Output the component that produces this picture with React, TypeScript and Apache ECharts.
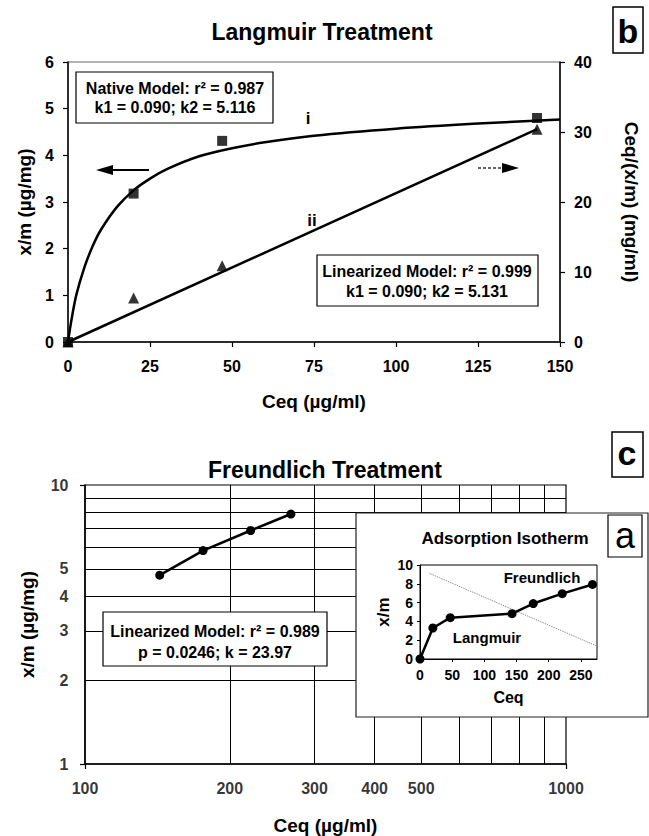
import React, { useEffect, useRef } from "react";
import * as echarts from "echarts";

const FONT = "'Liberation Sans', Arial, Helvetica, sans-serif";

// ---- Panel b: Langmuir treatment ----
const langCeq = [0, 20, 47, 143];
const langXm = [0, 3.18, 4.31, 4.8];
const linCeq = [0, 20, 47, 143];
const linRatio = [0, 6.3, 10.9, 30.4];
const curveCeq = [0, 1, 2.5, 5, 7.5, 10, 15, 20, 25, 30, 40, 50, 60, 75, 100, 125, 150];
const curveXm = [0, 0.45, 1.0, 1.6, 2.05, 2.4, 2.9, 3.25, 3.5, 3.7, 3.98, 4.15, 4.28, 4.42, 4.57, 4.68, 4.77];
const lineIICeq = [0, 143];
const lineIIRatio = [0, 30.4];

// ---- Panel c: Freundlich treatment ----
const freCeq = [143, 176, 221, 268];
const freXm = [4.75, 5.82, 6.87, 7.87];
const logXTicks = [100, 200, 300, 400, 500, 1000];
const logYTicks = [1, 2, 3, 4, 5, 10];
const logXGrid = [200, 300, 400, 500, 600, 700, 800, 900];
const logYGrid = [2, 3, 4, 5, 6, 7, 8, 9];

// ---- Panel a: Adsorption isotherm (inset) ----
const isoCeq = [0, 20, 47, 143, 176, 221, 268];
const isoXm = [0, 3.3, 4.4, 4.82, 5.9, 6.95, 7.93];
const sepCeq = [15, 274];
const sepXm = [9.1, 1.4];

const zip = (a: number[], b: number[]) => a.map((v, i) => [v, b[i]]);

const baseAxis = (fs: number) => ({
  axisLine: { show: true, lineStyle: { color: "#000", width: 1.5 } },
  axisTick: { show: true, length: 5, lineStyle: { color: "#000", width: 1.2 } },
  axisLabel: { color: "#000", fontSize: fs, fontWeight: "bold", fontFamily: FONT },
  splitLine: { show: false },
  nameTextStyle: { color: "#000", fontSize: 19, fontWeight: "bold", fontFamily: FONT },
  nameLocation: "middle",
});

const txt = (x: number, y: number, text: string, fs: number, z = 40, weight = "bold", align = "center") => ({
  type: "text",
  x,
  y,
  z,
  style: {
    text,
    fill: "#000",
    font: `${weight} ${fs}px ${FONT}`,
    textAlign: align,
    textVerticalAlign: "middle",
  },
});

const box = (x: number, y: number, w: number, h: number, z = 20, lw = 1.2) => ({
  type: "rect",
  z,
  shape: { x, y, width: w, height: h },
  style: { fill: "#fff", stroke: "#000", lineWidth: lw },
});

export default function App() {
  const ref = useRef<HTMLDivElement>(null);
  useEffect(() => {
    const chart = echarts.init(ref.current!, null, { renderer: "svg" });
    const option: any = {
      animation: false,
      backgroundColor: "#fff",
      grid: [
        { left: 68, top: 62, width: 498, height: 280, show: true, borderColor: "#666", borderWidth: 1 },
        { left: 85, top: 485, width: 481, height: 279, show: true, borderColor: "#000", borderWidth: 1.2 },
        { left: 420, top: 565, width: 177, height: 94, show: true, borderColor: "#000", borderWidth: 1, z: 31 },
      ],
      xAxis: [
        {
          ...baseAxis(16),
          gridIndex: 0,
          type: "value",
          min: 0,
          max: 150,
          interval: 25,
          name: "Ceq (µg/ml)",
          nameGap: 50,
          axisLabel: { ...baseAxis(16).axisLabel, margin: 16 },
        },
        {
          ...baseAxis(16),
          gridIndex: 1,
          type: "log",
          logBase: 10,
          min: 100,
          max: 1000,
          name: "Ceq (µg/ml)",
          nameGap: 52,
          axisLabel: { show: false },
        },
        {
          ...baseAxis(14),
          gridIndex: 2,
          type: "value",
          min: 0,
          max: 275,
          interval: 50,
          z: 32,
          name: "Ceq",
          nameGap: 30,
          nameTextStyle: { color: "#000", fontSize: 16, fontWeight: "bold", fontFamily: FONT },
          axisLine: { show: true, lineStyle: { color: "#000", width: 1 } },
          axisTick: { show: true, length: 3, lineStyle: { color: "#000" } },
          axisLabel: { ...baseAxis(14).axisLabel, margin: 9, showMaxLabel: false },
        },
      ],
      yAxis: [
        {
          ...baseAxis(16),
          gridIndex: 0,
          type: "value",
          min: 0,
          max: 6,
          interval: 1,
          name: "x/m (µg/mg)",
          nameGap: 31,
          axisLabel: { ...baseAxis(16).axisLabel, margin: 14 },
        },
        {
          ...baseAxis(16),
          gridIndex: 0,
          type: "value",
          position: "right",
          min: 0,
          max: 40,
          interval: 10,
          name: "Ceq/(x/m) (mg/ml)",
          nameGap: 62,
          nameRotate: -90,
          axisLabel: { ...baseAxis(16).axisLabel, margin: 14 },
        },
        {
          ...baseAxis(16),
          gridIndex: 1,
          type: "log",
          logBase: 10,
          min: 1,
          max: 10,
          name: "x/m (µg/mg)",
          nameGap: 48,
          axisLabel: { show: false },
        },
        {
          ...baseAxis(14),
          gridIndex: 2,
          type: "value",
          min: 0,
          max: 10,
          interval: 2,
          z: 32,
          name: "x/m",
          nameGap: 28,
          nameTextStyle: { color: "#000", fontSize: 17, fontWeight: "bold", fontFamily: FONT },
          axisLine: { show: true, lineStyle: { color: "#000", width: 1 } },
          axisTick: { show: true, length: 3, lineStyle: { color: "#000" } },
          axisLabel: { ...baseAxis(14).axisLabel, margin: 7 },
        },
      ],
      series: [
        // Panel b
        {
          type: "line",
          xAxisIndex: 0,
          yAxisIndex: 0,
          data: zip(curveCeq, curveXm),
          smooth: 0.3,
          showSymbol: false,
          lineStyle: { color: "#000", width: 2.5 },
          silent: true,
        },
        {
          type: "scatter",
          xAxisIndex: 0,
          yAxisIndex: 0,
          data: zip(langCeq, langXm),
          symbol: "rect",
          symbolSize: 10,
          itemStyle: { color: "#000" },
          clip: false,
          z: 4,
        },
        {
          type: "line",
          xAxisIndex: 0,
          yAxisIndex: 1,
          data: zip(lineIICeq, lineIIRatio),
          showSymbol: false,
          lineStyle: { color: "#000", width: 2.5 },
          silent: true,
        },
        {
          type: "scatter",
          xAxisIndex: 0,
          yAxisIndex: 1,
          data: zip(linCeq, linRatio),
          symbol: "triangle",
          symbolSize: 11,
          itemStyle: { color: "#000" },
          clip: false,
          z: 4,
        },
        // Panel c: tick labels + grid lines
        {
          type: "scatter",
          xAxisIndex: 1,
          yAxisIndex: 2,
          data: logXTicks.map((v) => [v, 1]),
          symbolSize: 1,
          itemStyle: { color: "rgba(0,0,0,0)" },
          silent: true,
          clip: false,
          label: {
            show: true,
            position: "bottom",
            distance: 16,
            formatter: (p: any) => String(p.value[0]),
            color: "#000",
            fontSize: 16,
            fontWeight: "bold",
            fontFamily: FONT,
          },
          markLine: {
            silent: true,
            symbol: ["none", "none"],
            label: { show: false },
            lineStyle: { color: "#000", width: 1, type: "solid" },
            emphasis: { disabled: true },
            data: [...logXGrid.map((v) => ({ xAxis: v })), ...logYGrid.map((v) => ({ yAxis: v }))],
          },
        },
        {
          type: "scatter",
          xAxisIndex: 1,
          yAxisIndex: 2,
          data: logYTicks.map((v) => [100, v]),
          symbolSize: 1,
          itemStyle: { color: "rgba(0,0,0,0)" },
          silent: true,
          clip: false,
          label: {
            show: true,
            position: "left",
            distance: 16,
            formatter: (p: any) => String(p.value[1]),
            color: "#000",
            fontSize: 16,
            fontWeight: "bold",
            fontFamily: FONT,
          },
        },
        {
          type: "line",
          xAxisIndex: 1,
          yAxisIndex: 2,
          data: zip(freCeq, freXm),
          symbol: "circle",
          symbolSize: 9,
          lineStyle: { color: "#000", width: 2.5 },
          itemStyle: { color: "#000" },
          z: 5,
        },
        // Panel a: inset
        {
          type: "line",
          xAxisIndex: 2,
          yAxisIndex: 3,
          data: zip(sepCeq, sepXm),
          showSymbol: false,
          lineStyle: { color: "#777", width: 1, type: "dotted" },
          z: 33,
          silent: true,
        },
        {
          type: "line",
          xAxisIndex: 2,
          yAxisIndex: 3,
          data: zip(isoCeq, isoXm),
          symbol: "circle",
          symbolSize: 9,
          lineStyle: { color: "#000", width: 2.5 },
          itemStyle: { color: "#000" },
          clip: false,
          z: 34,
        },
      ],
      graphic: [
        // Panel b texts
        txt(322, 32, "Langmuir Treatment", 23),
        box(613, 7, 30, 46, 20, 1.5),
        txt(628, 31, "b", 34),
        box(76, 72, 197, 51),
        txt(175, 88, "Native Model: r² = 0.987", 16, 21),
        txt(175, 107, "k1 = 0.090; k2 = 5.116", 16, 21),
        box(317, 255, 221, 51),
        txt(427, 271, "Linearized Model: r² = 0.999", 16, 21),
        txt(427, 291, "k1 = 0.090; k2 = 5.131", 16, 21),
        txt(308, 118, "i", 17),
        txt(312, 220, "ii", 17),
        { type: "line", z: 20, shape: { x1: 149, y1: 170, x2: 108, y2: 170 }, style: { stroke: "#000", lineWidth: 2 } },
        { type: "polygon", z: 20, shape: { points: [[96, 170], [113, 165], [113, 175]] }, style: { fill: "#000" } },
        { type: "line", z: 20, shape: { x1: 478, y1: 168, x2: 505, y2: 168 }, style: { stroke: "#333", lineWidth: 1.5, lineDash: [3, 2] } },
        { type: "polygon", z: 20, shape: { points: [[519, 168], [502, 163], [502, 173]] }, style: { fill: "#000" } },
        // Panel c texts
        txt(325, 470, "Freundlich Treatment", 23),
        box(612, 432, 31, 45, 20, 1.5),
        txt(627, 453, "c", 34),
        box(103, 612, 224, 54, 20),
        txt(215, 631, "Linearized Model: r² = 0.989", 16, 21),
        txt(215, 652, "p = 0.0246; k = 23.97", 16, 21),
        // Inset panel a
        { type: "rect", z: 30, shape: { x: 356, y: 513, width: 292, height: 204 }, style: { fill: "#fff", stroke: "#222", lineWidth: 1.2 } },
        txt(505, 538, "Adsorption Isotherm", 17, 35),
        box(608, 515, 34, 42, 35, 1.2),
        txt(625, 535, "a", 36, 36, "normal"),
        txt(542, 577, "Freundlich", 15, 36),
        txt(487, 637, "Langmuir", 15, 36),
      ],
    };
    chart.setOption(option);
    return () => chart.dispose();
  }, []);
  return (
    <div
      ref={ref}
      style={{ position: "absolute", left: 0, top: 0, width: 649, height: 836, background: "#fff" }}
    />
  );
}
